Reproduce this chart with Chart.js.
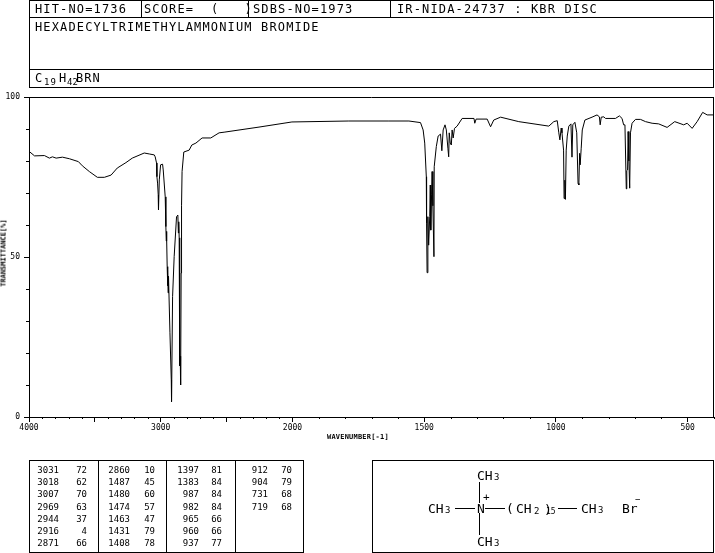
<!DOCTYPE html>
<html>
<head>
<meta charset="utf-8">
<title>Hexadecyltrimethylammonium bromide IR</title>
<script src="https://cdn.jsdelivr.net/npm/chart.js@4/dist/chart.umd.js"></script>
<style>
    html, body { margin: 0; padding: 0; background: #fff; }
    #page { position: relative; width: 715px; height: 553px; overflow: hidden; }
    #wykres { position: absolute; left: 0; top: 0; }
    .t { position: absolute; font-family: "DejaVu Sans Mono", monospace; color: #000; white-space: pre; line-height: 1; transform: translateY(-50%); }
    .box, .kreska { position: absolute; background: #000; }
    .ramka { position: absolute; border: 1px solid #000; box-sizing: border-box; }
</style>
</head>
<body>
<div id="page"><canvas id="wykres" width="715" height="553"></canvas></div>
<script>
// widmo: liczba falowa i transmitancja
const wavenumbers = [
    3996, 3958, 3883, 3845, 3822, 3794, 3746, 3693, 3625, 3595, 3542, 3481, 3428, 3377, 3330, 3264, 3216, 3125, 3087, 3049,
    3042, 3032, 3029, 3024, 3019, 3017, 3011, 3001, 2986, 2981, 2966, 2961, 2958, 2956, 2954, 2951, 2948, 2946, 2944, 2941,
    2930, 2920, 2918, 2910, 2898, 2880, 2870, 2866, 2863, 2860, 2857, 2855, 2852, 2849, 2845, 2842, 2838, 2825, 2784, 2764,
    2733, 2686, 2620, 2557, 2519, 2254, 2004, 1786, 1634, 1558, 1514, 1504, 1498, 1492, 1491, 1489, 1486, 1483, 1479, 1477,
    1475, 1472, 1470, 1467, 1463, 1462, 1454, 1447, 1438, 1433, 1428, 1421, 1416, 1410, 1407, 1405, 1401, 1397, 1394, 1390,
    1385, 1375, 1356, 1311, 1308, 1303, 1261, 1248, 1236, 1210, 1141, 1027, 1008, 995, 989, 985, 980, 977, 971, 969,
    966, 964, 961, 957, 951, 943, 939, 936, 928, 921, 916, 913, 910, 908, 904, 900, 890, 863, 844, 835,
    832, 828, 818, 812, 774, 759, 749, 743, 738, 733, 731, 728, 726, 723, 720, 717, 711, 698, 679, 660,
    635, 610, 578, 549, 515, 502, 483, 464, 443, 426, 400
];
const transmittance = [
    82.9, 81.6, 81.7, 80.9, 81.3, 80.9, 81.2, 80.7, 79.8, 78.5, 76.7, 74.9, 74.9, 75.6, 77.8, 79.5, 80.9, 82.5, 82.2, 81.9,
    81.3, 79.4, 75.1, 73.1, 69.4, 64.7, 74.1, 78.8, 79, 77.2, 68.8, 59.5, 55, 58, 55.3, 47, 41, 46, 38.8, 44,
    26.3, 11.6, 4.8, 37.6, 50.1, 62.6, 63.1, 57.5, 61, 56, 42, 16, 19, 10, 45, 66, 76.7, 82.8, 83.4, 85,
    85.6, 87.2, 87.2, 88.8, 89, 90.6, 92.2, 92.5, 92.5, 92.5, 92, 89.7, 85.6, 75.1, 60.6, 45.1, 62.6, 53.7, 62.6, 72.5,
    58.4, 69.4, 76.7, 66, 50.1, 78.2, 84.5, 87.8, 88.4, 83.2, 89.7, 91.3, 89.7, 84, 81.3, 88.8, 85.6, 85, 89.7, 87.2,
    90.2, 90.9, 93.3, 93.3, 91.8, 93.1, 93.1, 90.7, 92.8, 93.7, 92.3, 90.9, 92.3, 92.6, 88.8, 86.6, 90.3, 88.8, 83.4, 68.3,
    74, 68, 83.4, 87.8, 90.9, 91.6, 81.2, 91.3, 92.1, 88.8, 73, 72.5, 82.4, 78.8, 84, 89.7, 92.8, 93.7, 94.4, 93.8,
    91.3, 93.7, 93.8, 93.3, 93.3, 94.1, 93.3, 91.3, 91.3, 71.3, 77, 77.2, 89.2, 80, 71.5, 88.8, 91.8, 93, 93, 92.3,
    91.8, 91.6, 90.5, 92.3, 91.3, 91.8, 90.2, 92.3, 95.2, 94.4, 94.4
];

const xTickLabels = [4000, 3000, 2000, 1500, 1000, 500];
const yTickLabels = [100, 50, 0];

// tabela pikow: kolumny [liczba falowa, T]
const peakCols = [
    [["3031", "72"], ["3018", "62"], ["3007", "70"], ["2969", "63"], ["2944", "37"], ["2916", "4"], ["2871", "66"]],
    [["2860", "10"], ["1487", "45"], ["1480", "60"], ["1474", "57"], ["1463", "47"], ["1431", "79"], ["1408", "78"]],
    [["1397", "81"], ["1383", "84"], ["987", "84"], ["982", "84"], ["965", "66"], ["960", "66"], ["937", "77"]],
    [["912", "70"], ["904", "79"], ["731", "68"], ["719", "68"]]
];

const page = document.getElementById("page");

function tekst(html, x, y, size, extra) {
    const el = document.createElement("div");
    el.className = "t";
    el.innerHTML = html;
    el.style.left = x + "px";
    el.style.top = y + "px";
    el.style.fontSize = size + "px";
    if (extra) Object.assign(el.style, extra);
    page.appendChild(el);
    return el;
}

function tekstPrawo(html, right, y, size) {
    const el = tekst(html, 0, y, size);
    el.style.left = "";
    el.style.right = (715 - right) + "px";
}

function kreska(x, y, w, h) {
    const el = document.createElement("div");
    el.className = "kreska";
    el.style.cssText = `left:${x}px;top:${y}px;width:${w}px;height:${h}px`;
    page.appendChild(el);
}

function ramka(x, y, w, h) {
    const el = document.createElement("div");
    el.className = "ramka";
    el.style.cssText = `left:${x}px;top:${y}px;width:${w}px;height:${h}px`;
    page.appendChild(el);
}

// naglowek
ramka(29, 0, 685, 88);
kreska(29, 17, 685, 1);
kreska(29, 69, 685, 1);
kreska(141, 0, 1, 17);
kreska(248, 0, 1, 17);
kreska(390, 0, 1, 17);
const naglowek = { letterSpacing: "1.15px" };
tekst("HIT-NO=1736", 35, 9, 12, naglowek);
tekst("SCORE=  (   )", 144, 9, 12, naglowek);
tekst("SDBS-NO=1973", 253, 9, 12, naglowek);
tekst("IR-NIDA-24737 : KBR DISC", 397, 9, 12, naglowek);
tekst("HEXADECYLTRIMETHYLAMMONIUM BROMIDE", 35, 27, 12, naglowek);
tekst("C", 35, 78, 12);
tekst("19", 44, 82, 9, { letterSpacing: "1px" });
tekst("H", 59, 78, 12);
tekst("42", 67, 82, 9);
tekst("BRN", 76, 78, 12, { letterSpacing: "1px" });

// tytuly osi
tekst("WAVENUMBER[-1]", 327, 437, 7, { letterSpacing: "0.2px", fontWeight: "bold" });
tekst("TRANSMITTANCE[%]", 4, 253, 7, { transform: "translate(-50%,-50%) rotate(-90deg)", fontWeight: "bold" });

// tabela pikow
ramka(29, 460, 275, 93);
kreska(98, 460, 1, 93);
kreska(166, 460, 1, 93);
kreska(235, 460, 1, 93);
const kolWn = [59, 130, 199, 268];
const kolT = [87, 155, 222, 292];
peakCols.forEach((kol, k) => {
    kol.forEach((p, i) => {
        const y = 470 + i * 12.2;
        tekstPrawo(p[0], kolWn[k], y, 9);
        tekstPrawo(p[1], kolT[k], y, 9);
    });
});

// wzor strukturalny
ramka(372, 460, 342, 93);
function ch3(x, y) {
    tekst("CH", x, y, 13);
    tekst("3", x + 17, y + 2, 9);
}
ch3(477, 475);
ch3(428, 508);
ch3(581, 508);
ch3(477, 541);
tekst("N", 477, 508, 13);
tekst("+", 483, 497, 11);
tekst("(", 506, 508, 13);
tekst("CH", 516, 508, 13);
tekst("2", 534, 511, 9);
tekst(")", 544, 509, 13);
tekst("15", 546, 512, 8);
tekst("Br", 622, 508, 13);
tekst("\u2212", 635, 499, 9);
kreska(479, 482, 1, 21);
kreska(479, 513, 1, 22);
kreska(455, 508, 20, 1);
kreska(485, 508, 20, 1);
kreska(558, 508, 19, 1);

// os X ma dwie skale: 4000-2000 scisnieta o polowe wzgledem 2000-400
class SkalaWidma extends Chart.LinearScale {
    getPixelForValue(value) {
        const u = value >= 2000 ? (4000 - value) / 2 : 1000 + (2000 - value);
        return this.getPixelForDecimal(u / 2600);
    }
    getValueForPixel(pixel) {
        const u = this.getDecimalForPixel(pixel) * 2600;
        return u <= 1000 ? 4000 - u * 2 : 2000 - (u - 1000);
    }
}
SkalaWidma.id = "widmo";
SkalaWidma.defaults = Chart.LinearScale.defaults;
Chart.register(SkalaWidma);

const tickFont = { family: "'DejaVu Sans Mono', monospace", size: 8 };
const jestGlowny = (scale, v) => (scale.axis === "x" ? v % 500 === 0 : v % 50 === 0);

// krotkie kreski i ramka wykresu
const krotkieKreski = {
    id: "krotkieKreski",
    afterDraw(c) {
        const ctx = c.ctx, a = c.chartArea;
        ctx.save();
        ctx.strokeStyle = "#000";
        ctx.lineWidth = 1;
        ctx.beginPath();
        c.scales.x.ticks.forEach(t => {
            if (jestGlowny(c.scales.x, t.value)) return;
            const px = Math.round(c.scales.x.getPixelForValue(t.value)) + 0.5;
            ctx.moveTo(px, a.bottom);
            ctx.lineTo(px, a.bottom + 2);
        });
        c.scales.y.ticks.forEach(t => {
            if (jestGlowny(c.scales.y, t.value)) return;
            const py = Math.round(c.scales.y.getPixelForValue(t.value)) + 0.5;
            ctx.moveTo(a.left - 3, py);
            ctx.lineTo(a.left, py);
        });
        ctx.moveTo(a.left, a.top + 0.5);
        ctx.lineTo(a.right, a.top + 0.5);
        ctx.moveTo(a.right - 0.5, a.top);
        ctx.lineTo(a.right - 0.5, a.bottom);
        ctx.stroke();
        ctx.restore();
    }
};

const chart = new Chart(document.getElementById("wykres").getContext("2d"), {
    type: "line",
    data: {
        datasets: [{
            data: wavenumbers.map((w, i) => ({ x: w, y: transmittance[i] })),
            borderColor: "#000",
            borderWidth: 1,
            pointRadius: 0,
            tension: 0
        }]
    },
    options: {
        responsive: false,
        devicePixelRatio: 1,
        animation: false,
        layout: { padding: { top: 97, right: 1, left: 0, bottom: 0 } },
        plugins: { legend: { display: false }, tooltip: { enabled: false } },
        scales: {
            x: {
                type: "widmo",
                min: 400,
                max: 4000,
                afterBuildTicks: s => {
                    const t = [];
                    for (let v = 4000; v >= 400; v -= 100) t.push({ value: v });
                    s.ticks = t;
                },
                afterFit: s => { s.height = 136; },
                border: { display: true, color: "#000", width: 1 },
                grid: {
                    drawOnChartArea: false,
                    tickLength: 5,
                    tickColor: c => (c.tick && c.tick.value % 500 === 0 ? "#000" : "rgba(0,0,0,0)")
                },
                ticks: {
                    autoSkip: false,
                    maxRotation: 0,
                    minRotation: 0,
                    padding: 1,
                    color: "#000",
                    font: tickFont,
                    callback: v => (xTickLabels.includes(v) ? String(v) : "")
                }
            },
            y: {
                type: "linear",
                min: 0,
                max: 100,
                afterBuildTicks: s => {
                    const t = [];
                    for (let v = 0; v <= 100; v += 10) t.push({ value: v });
                    s.ticks = t;
                },
                afterFit: s => { s.width = 29; },
                border: { display: true, color: "#000", width: 1 },
                grid: {
                    drawOnChartArea: false,
                    tickLength: 5,
                    tickColor: c => (c.tick && c.tick.value % 50 === 0 ? "#000" : "rgba(0,0,0,0)")
                },
                ticks: {
                    autoSkip: false,
                    padding: 4,
                    color: "#000",
                    font: tickFont,
                    callback: v => (yTickLabels.includes(v) ? String(v) : "")
                }
            }
        }
    },
    plugins: [krotkieKreski]
});
</script>
</body>
</html>
